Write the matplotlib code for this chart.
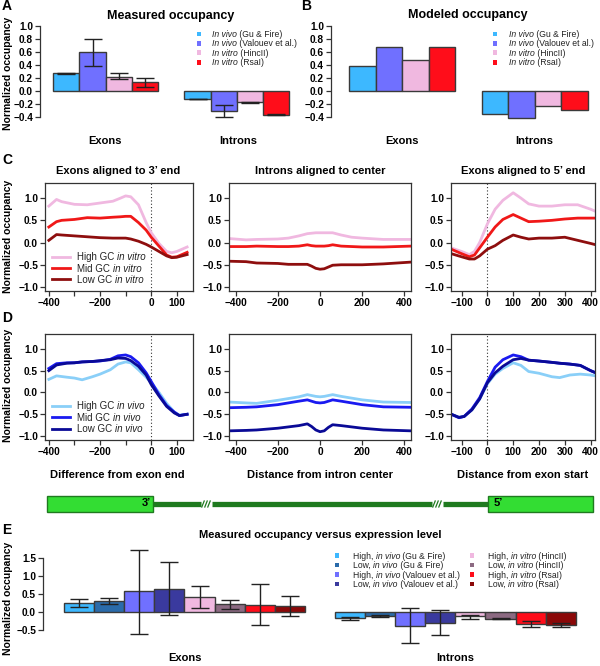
import numpy as np
import matplotlib
matplotlib.use("Agg")
import matplotlib.pyplot as plt
from matplotlib.patches import Rectangle
from matplotlib.ticker import FuncFormatter

plt.rcParams['font.family'] = ['Liberation Sans', 'DejaVu Sans']
plt.rcParams['font.weight'] = 'bold'
plt.rcParams['axes.linewidth'] = 0.9

# ---------------- data ----------------
# text between *...* is drawn in italics
src_labels = ["*In vivo* (Gu & Fire)", "*In vivo* (Valouev et al.)",
              "*In vitro* (HincII)", "*In vitro* (RsaI)"]
src_colors = ["#3DB8FF", "#7070FF", "#F0B8E0", "#FF0D1A"]

# Panel A: measured occupancy
a_exon = [0.27, 0.59, 0.22, 0.13]
a_exon_lo = [0.26, 0.38, 0.19, 0.06]
a_exon_hi = [0.28, 0.79, 0.27, 0.20]
a_intron = [-0.13, -0.31, -0.17, -0.37]
a_intron_lo = [-0.13, -0.40, -0.18, -0.37]
a_intron_hi = [-0.12, -0.22, -0.17, -0.36]

# Panel B: modeled occupancy
b_exon = [0.38, 0.68, 0.47, 0.67]
b_intron = [-0.36, -0.41, -0.23, -0.29]

# Panels C/D: profiles
vitro_labels = ["High GC *in vitro*", "Mid GC *in vitro*", "Low GC *in vitro*"]
vitro_colors = ["#F0B8E0", "#F01818", "#8E0E0E"]
vivo_labels = ["High GC *in vivo*", "Mid GC *in vivo*", "Low GC *in vivo*"]
vivo_colors = ["#8ACFF8", "#1A1AF0", "#0A0A96"]

end3_x = [-400, -370, -350, -300, -250, -200, -150, -120, -100, -80, -50, -20, 0, 30, 60, 80, 100, 140]
c_end3_high = [0.82, 0.97, 0.92, 0.86, 0.85, 0.89, 0.93, 1.00, 1.05, 1.03, 0.85, 0.45, 0.22, -0.02, -0.20, -0.23, -0.20, -0.10]
c_end3_mid = [0.35, 0.47, 0.50, 0.52, 0.56, 0.55, 0.57, 0.58, 0.59, 0.59, 0.45, 0.28, 0.12, -0.08, -0.28, -0.33, -0.32, -0.22]
c_end3_low = [0.05, 0.18, 0.17, 0.15, 0.13, 0.11, 0.10, 0.10, 0.10, 0.08, 0.03, -0.04, -0.10, -0.20, -0.30, -0.34, -0.33, -0.27]

ctr_x = [-430, -350, -300, -200, -150, -100, -60, -40, -20, 0, 20, 40, 60, 100, 150, 200, 300, 430]
c_ctr_high = [0.09, 0.06, 0.07, 0.08, 0.10, 0.15, 0.20, 0.21, 0.22, 0.22, 0.22, 0.22, 0.22, 0.17, 0.12, 0.10, 0.07, 0.07]
c_ctr_mid = [-0.09, -0.09, -0.08, -0.09, -0.09, -0.08, -0.05, -0.07, -0.08, -0.08, -0.08, -0.07, -0.05, -0.08, -0.09, -0.10, -0.10, -0.08]
c_ctr_low = [-0.42, -0.43, -0.46, -0.47, -0.49, -0.49, -0.49, -0.53, -0.58, -0.60, -0.59, -0.55, -0.51, -0.50, -0.50, -0.50, -0.48, -0.44]

start5_x = [-140, -100, -70, -50, -30, 0, 30, 60, 100, 130, 160, 200, 250, 300, 350, 400, 420]
c_start5_high = [-0.12, -0.20, -0.27, -0.20, 0.00, 0.42, 0.75, 0.95, 1.12, 1.00, 0.87, 0.82, 0.82, 0.85, 0.85, 0.75, 0.70]
c_start5_mid = [-0.15, -0.25, -0.32, -0.28, -0.12, 0.12, 0.35, 0.52, 0.63, 0.55, 0.47, 0.48, 0.50, 0.53, 0.55, 0.55, 0.55]
c_start5_low = [-0.25, -0.32, -0.37, -0.37, -0.30, -0.15, -0.07, 0.05, 0.17, 0.12, 0.08, 0.10, 0.10, 0.12, 0.05, -0.02, -0.05]

end3_x_d = [-400, -370, -330, -300, -270, -230, -200, -160, -130, -100, -80, -50, -20, 0, 30, 60, 90, 110, 140]
d_end3_high = [0.30, 0.38, 0.35, 0.33, 0.29, 0.36, 0.42, 0.52, 0.65, 0.70, 0.68, 0.52, 0.35, 0.22, 0.00, -0.25, -0.45, -0.52, -0.50]
d_end3_mid = [0.55, 0.66, 0.68, 0.68, 0.70, 0.71, 0.72, 0.76, 0.84, 0.86, 0.82, 0.68, 0.45, 0.25, -0.05, -0.30, -0.45, -0.53, -0.50]
d_end3_low = [0.50, 0.63, 0.67, 0.68, 0.70, 0.71, 0.73, 0.75, 0.79, 0.78, 0.73, 0.60, 0.40, 0.18, -0.08, -0.32, -0.47, -0.53, -0.50]

d_ctr_high = [-0.22, -0.24, -0.25, -0.18, -0.14, -0.10, -0.05, -0.07, -0.09, -0.10, -0.09, -0.07, -0.05, -0.09, -0.13, -0.17, -0.22, -0.23]
d_ctr_mid = [-0.35, -0.34, -0.33, -0.28, -0.24, -0.20, -0.17, -0.20, -0.23, -0.24, -0.23, -0.20, -0.17, -0.20, -0.24, -0.28, -0.33, -0.34]
d_ctr_low = [-0.88, -0.87, -0.86, -0.82, -0.79, -0.76, -0.72, -0.78, -0.86, -0.90, -0.88, -0.80, -0.74, -0.76, -0.79, -0.82, -0.86, -0.88]

start5_x_d = [-140, -110, -90, -60, -30, 0, 30, 60, 100, 130, 160, 200, 250, 280, 320, 360, 400, 420]
d_start5_high = [-0.50, -0.57, -0.55, -0.40, -0.15, 0.20, 0.42, 0.55, 0.68, 0.62, 0.48, 0.44, 0.36, 0.34, 0.40, 0.42, 0.40, 0.38]
d_start5_mid = [-0.50, -0.58, -0.55, -0.38, -0.12, 0.25, 0.58, 0.75, 0.86, 0.82, 0.74, 0.72, 0.69, 0.67, 0.65, 0.62, 0.50, 0.45]
d_start5_low = [-0.50, -0.57, -0.55, -0.40, -0.15, 0.22, 0.45, 0.60, 0.75, 0.78, 0.74, 0.72, 0.69, 0.67, 0.65, 0.62, 0.50, 0.45]

# Panel E: occupancy vs expression
e_labels = ["High, *in vivo* (Gu & Fire)", "Low, *in vivo* (Gu & Fire)",
            "High, *in vivo* (Valouev et al.)", "Low, *in vivo* (Valouev et al.)",
            "High, *in vitro* (HincII)", "Low, *in vitro* (HincII)",
            "High, *in vitro* (RsaI)", "Low, *in vitro* (RsaI)"]
e_colors = ["#3DB8FF", "#2A6BAA", "#7070FF", "#3A3A9E", "#F0B8E0", "#8C6A82", "#FF0D1A", "#8B0808"]
e_exon = [0.25, 0.30, 0.57, 0.64, 0.41, 0.22, 0.20, 0.17]
e_exon_lo = [0.13, 0.23, -0.60, -0.08, 0.11, 0.09, -0.35, -0.11]
e_exon_hi = [0.37, 0.38, 1.72, 1.38, 0.71, 0.34, 0.77, 0.44]
e_intron = [-0.17, -0.10, -0.38, -0.29, -0.12, -0.18, -0.33, -0.36]
e_intron_lo = [-0.21, -0.13, -0.85, -0.62, -0.18, -0.19, -0.42, -0.41]
e_intron_hi = [-0.13, -0.08, 0.11, 0.05, -0.08, -0.16, -0.24, -0.30]

# ---------------- figure ----------------
W, H = 600, 666
fig = plt.figure(figsize=(W / 100, H / 100), dpi=100)
renderer = fig.canvas.get_renderer()

def ax_px(l, t, r, b, **kw):
    return fig.add_axes([l / W, 1 - b / H, (r - l) / W, (b - t) / H], **kw)

def fmt1(v, pos=None):
    s = f"{v:.1f}"
    if s == "-0.0":
        s = "0.0"
    return s.replace("-", "\u2212")

def fmt0(v, pos=None):
    return f"{v:.0f}".replace("-", "\u2212")

TICK_FS = 7.3

def style_bar_axes(ax, yticks):
    ax.patch.set_alpha(0)
    for s in ["top", "right", "bottom"]:
        ax.spines[s].set_visible(False)
    ax.spines["left"].set_bounds(yticks[0], yticks[-1])
    ax.spines["left"].set_color("#333333")
    ax.set_yticks(yticks)
    ax.yaxis.set_major_formatter(FuncFormatter(fmt1))
    ax.tick_params(axis="y", length=3.5, width=0.9, labelsize=TICK_FS, pad=1.5, color="#333333")
    ax.set_xticks([])

def bars(ax, x0, vals, colors, lo=None, hi=None):
    xs = [x0 + i for i in range(len(vals))]
    ax.bar(xs, vals, width=1.0, align="edge", color=colors, edgecolor="#3a3a3a", linewidth=1.0)
    if lo is not None:
        ctr = [x + 0.5 for x in xs]
        yerr = [[v - l for v, l in zip(vals, lo)], [h - v for v, h in zip(vals, hi)]]
        ax.errorbar(ctr, vals, yerr=np.abs(np.array(yerr)), fmt="none", ecolor="#222222",
                    elinewidth=1.0, capsize=6.5, capthick=1.0)

# Bottom overlay for the gene diagram (pixel coords)
ov = fig.add_axes([0, 0, 1, 1], zorder=-1)
ov.set_xlim(0, W)
ov.set_ylim(H, 0)
ov.axis("off")

# Top overlay for all texts and legends
ov2 = fig.add_axes([0, 0, 1, 1], zorder=10)
ov2.set_xlim(0, W)
ov2.set_ylim(H, 0)
ov2.axis("off")
ov2.patch.set_alpha(0)

def ptext(x, y, s, size=8, weight="bold", ha="center", va="center", **kw):
    ov2.text(x, y, s, fontsize=size, fontweight=weight, ha=ha, va=va, **kw)

def rich_text(x, y, label, size):
    """Draw label left-aligned at (x, y); parts between * are italic."""
    parts = label.split("*")
    cx = x
    for i, p in enumerate(parts):
        if not p:
            continue
        t = ov2.text(cx, y, p, fontsize=size, fontweight="normal",
                     fontstyle="italic" if i % 2 == 1 else "normal",
                     ha="left", va="baseline", color="#222222")
        bb = t.get_window_extent(renderer=renderer)
        cx += bb.width * (W / fig.bbox.width)

# ---- Panel A ----
axA = ax_px(40, 22.4, 300, 120.3)
axA.set_xlim(-0.5, 9.4)
axA.set_ylim(-0.45, 1.05)
bars(axA, 0, a_exon, src_colors, a_exon_lo, a_exon_hi)
bars(axA, 5, a_intron, src_colors, a_intron_lo, a_intron_hi)
style_bar_axes(axA, [-0.4, -0.2, 0.0, 0.2, 0.4, 0.6, 0.8, 1.0])
ptext(171, 16, "Measured occupancy", size=9)
ptext(105, 141, "Exons", size=8)
ptext(238, 141, "Introns", size=8)
ptext(7, 6, "A", size=10)

# ---- Panel B ----
axB = ax_px(331, 22.4, 597, 120.3)
axB.set_xlim(-0.68, 9.35)
axB.set_ylim(-0.45, 1.05)
bars(axB, 0, b_exon, src_colors)
bars(axB, 5, b_intron, src_colors)
style_bar_axes(axB, [-0.4, -0.2, 0.0, 0.2, 0.4, 0.6, 0.8, 1.0])
ptext(468, 15, "Modeled occupancy", size=9)
ptext(402, 141, "Exons", size=8)
ptext(534, 141, "Introns", size=8)
ptext(306, 6, "B", size=10)

def square_legend(xm, xt, ys, labels, colors, size=6.2):
    for y, lab, c in zip(ys, labels, colors):
        ov2.add_patch(Rectangle((xm - 2.3, y - 2.3), 4.6, 4.6, facecolor=c, edgecolor="none"))
        rich_text(xt, y + 3.0, lab, size)

square_legend(199, 212, [34, 43.3, 52.7, 62.3], src_labels, src_colors)
square_legend(495, 509, [34, 43.3, 52.7, 62.3], src_labels, src_colors)

# ---- Panels C / D ----
def profile_axes(l, t, r, b, xlim, xticks, xticklabels, dotted):
    ax = ax_px(l, t, r, b)
    ax.patch.set_alpha(0)
    ax.set_xlim(*xlim)
    ax.set_ylim(-1.09, 1.34)
    ax.set_yticks([-1.0, -0.5, 0.0, 0.5, 1.0])
    ax.yaxis.set_major_formatter(FuncFormatter(fmt1))
    ax.set_xticks(xticks)
    ax.set_xticklabels(xticklabels)
    ax.tick_params(length=3.5, width=0.9, labelsize=TICK_FS, pad=1.5, color="#333333")
    for s in ax.spines.values():
        s.set_color("#333333")
    if dotted:
        ax.axvline(0, color="#333333", lw=0.8, ls=(0, (1, 2)), zorder=1)
    return ax

left_ticks = [-400, -300, -200, -100, 0, 100]
left_lbls = ["\u2212400", "", "\u2212200", "", "0", "100"]
mid_ticks = [-400, -200, 0, 200, 400]
mid_lbls = [fmt0(v) for v in mid_ticks]
right_ticks = [-100, 0, 100, 200, 300, 400]
right_lbls = [fmt0(v) for v in right_ticks]

LW = 2.0

def draw_row(top, bot, series, colors):
    axL = profile_axes(45, top, 193, bot, (-415, 163), left_ticks, left_lbls, True)
    axM = profile_axes(229, top, 411, bot, (-431, 431), mid_ticks, mid_lbls, False)
    axR = profile_axes(451, top, 595, bot, (-141, 417), right_ticks, right_lbls, True)
    (xl, yl), (xm, ym), (xr, yr) = series
    for i in range(3):
        axL.plot(xl, yl[i], color=colors[i], lw=LW, solid_joinstyle="round")
        axM.plot(xm, ym[i], color=colors[i], lw=LW, solid_joinstyle="round")
        axR.plot(xr, yr[i], color=colors[i], lw=LW, solid_joinstyle="round")

draw_row(183, 291,
         [(end3_x, [c_end3_high, c_end3_mid, c_end3_low]),
          (ctr_x, [c_ctr_high, c_ctr_mid, c_ctr_low]),
          (start5_x, [c_start5_high, c_start5_mid, c_start5_low])],
         vitro_colors)
draw_row(334, 440,
         [(end3_x_d, [d_end3_high, d_end3_mid, d_end3_low]),
          (ctr_x, [d_ctr_high, d_ctr_mid, d_ctr_low]),
          (start5_x_d, [d_start5_high, d_start5_mid, d_start5_low])],
         vivo_colors)

def line_legend(ys, labels, colors):
    for y, lab, c in zip(ys, labels, colors):
        ov2.plot([52, 70], [y, y], color=c, lw=LW)
        rich_text(77, y + 3.5, lab, 7.0)

line_legend([256.7, 268, 279.3], vitro_labels, vitro_colors)
line_legend([405.7, 417.3, 429], vivo_labels, vivo_colors)

ptext(118, 171, "Exons aligned to 3\u2019 end", size=8)
ptext(320, 171, "Introns aligned to center", size=8)
ptext(523, 171, "Exons aligned to 5\u2019 end", size=8)
ptext(7, 160, "C", size=10)
ptext(7, 318, "D", size=10)

ptext(117, 475, "Difference from exon end", size=8)
ptext(320, 475, "Distance from intron center", size=8)
ptext(523, 475, "Distance from exon start", size=8)

for yc in [73, 236, 385, 598]:
    ptext(8, yc, "Normalized occupancy", size=7.5, rotation=90)

# ---- gene diagram ----
g_dark = "#1F7A1F"
g_light = "#33DD33"
ov.plot([153, 201], [504, 504], color=g_dark, lw=3.8, solid_capstyle="butt")
ov.plot([212, 432], [504, 504], color=g_dark, lw=3.8, solid_capstyle="butt")
ov.plot([443, 488], [504, 504], color=g_dark, lw=3.8, solid_capstyle="butt")
for gx in [201.5, 432.5]:
    for k in range(3):
        xx = gx + 1.5 + k * 3
        ov.plot([xx - 1.2, xx + 1.2], [507, 501], color=g_dark, lw=0.9)
ov.add_patch(Rectangle((47, 496), 106, 16, facecolor=g_light, edgecolor=g_dark, lw=1.0))
ov.add_patch(Rectangle((488, 496), 105, 16, facecolor=g_light, edgecolor=g_dark, lw=1.0))
ptext(146, 503, "3\u2019", size=8, ha="center")
ptext(494, 503, "5\u2019", size=8, ha="left")

# ---- Panel E ----
axE = ax_px(43, 548.5, 592, 644.7)
axE.set_xlim(-0.7, 17.54)
axE.set_ylim(-0.9, 1.75)
bars(axE, 0, e_exon, e_colors, e_exon_lo, e_exon_hi)
bars(axE, 9, e_intron, e_colors, e_intron_lo, e_intron_hi)
style_bar_axes(axE, [-0.5, 0.0, 0.5, 1.0, 1.5])
ptext(320, 535, "Measured occupancy versus expression level", size=8)
ptext(185, 658, "Exons", size=8)
ptext(455, 658, "Introns", size=8)
ptext(7, 530, "E", size=10)

square_legend(337, 353, [555.7, 565, 574.7, 584], e_labels[:4], e_colors[:4], size=6.2)
square_legend(472, 488, [555.7, 565, 574.7, 584], e_labels[4:], e_colors[4:], size=6.2)

fig.savefig("out.png", dpi=100)
